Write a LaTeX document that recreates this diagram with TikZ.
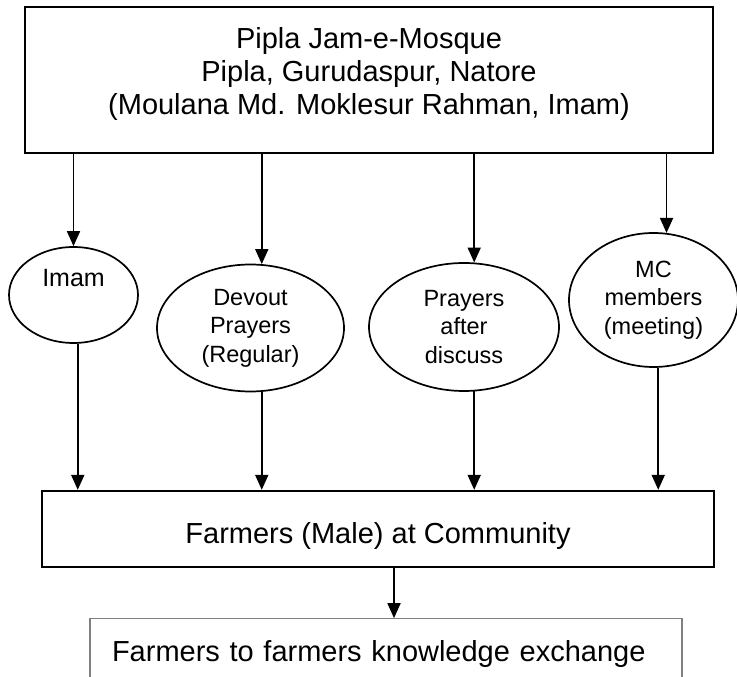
\documentclass[tikz,border=0pt]{standalone}
\usepackage{fontspec}
\setmainfont{Liberation Sans}
\usepackage{xcolor}
\usepackage{tikz}
\usetikzlibrary{shapes.geometric,arrows.meta,positioning}
\definecolor{mqink}{HTML}{000000}
\definecolor{mqgrey}{HTML}{808080}
\tikzset{
  plate/.style={rectangle,draw=mqink,line width=2.3pt,inner sep=0pt,align=center,
                font=\fontsize{29}{33}\selectfont,text=mqink},
  oval/.style={ellipse,draw=mqink,line width=1.7pt,inner sep=1pt,align=center,
               font=\fontsize{23.5}{28.5}\selectfont,text=mqink},
  flow/.style={-{Triangle[length=15pt,width=13pt]},line width=1.8pt,draw=mqink},
}

\begin{document}
\begin{tikzpicture}[x=1pt,y=1pt,
  note/.style={rectangle,draw=mqgrey,line width=1.1pt,inner xsep=22pt,inner ysep=0pt,
               text width=548pt,align=left,font=\fontsize{29}{33}\selectfont,text=mqink}]
  \useasboundingbox (0,0) rectangle (737,677);
  \clip (0,0) rectangle (737,677);
  \node[plate,minimum width=688pt,minimum height=146pt] (mosque) at (369,597) {};
  \node[align=center,inner sep=0pt,font=\fontsize{29}{33}\selectfont,text=mqink]
    (mosquetxt) at ([yshift=6pt]mosque.center)
    {Pipla Jam-e-Mosque\\Pipla, Gurudaspur, Natore\\(Moulana Md. Moklesur Rahman, Imam)};
  \node[oval,minimum width=129pt,minimum height=96pt,font=\fontsize{25}{29}\selectfont,
        text height=18pt,text depth=34pt] (imam) at (73.5,382) {Imam};
  \node[oval,minimum width=187pt,minimum height=127pt] (devout) at (250.5,349) {Devout\\Prayers\\(Regular)};
  \node[oval,minimum width=190pt,minimum height=128pt] (prayers) at (464,350) {Prayers\\after\\discuss};
  \node[oval,minimum width=169pt,minimum height=134pt] (mc) at (653.5,377) {MC\\members\\(meeting)};
  \node[plate,minimum width=672pt,minimum height=76pt,text height=36pt,text depth=6pt]
    (farmers) at (378,148) {Farmers (Male) at Community};
  \node[note,minimum width=592pt,minimum height=90pt,text height=21pt,text depth=25pt,
        below=50pt of farmers,xshift=8pt] (knowledge) {Farmers to farmers knowledge exchange};
  \draw[flow] (mosque.south -| imam.north) -- (imam.north);
  \draw[flow] (mosque.south -| devout.80) -- (devout.80);
  \draw[flow] (mosque.south -| prayers.81) -- (prayers.81);
  \draw[flow] (mosque.south -| mc.79) -- (mc.79);
  \draw[flow] (imam.-85) -- (imam.-85 |- farmers.north);
  \draw[flow] (devout.-80) -- (devout.-80 |- farmers.north);
  \draw[flow] (prayers.-81) -- (prayers.-81 |- farmers.north);
  \draw[flow] (mc.-86) -- (mc.-86 |- farmers.north);
  \draw[flow] ([xshift=16pt]farmers.south) -- ([xshift=16pt]farmers.south |- knowledge.north);
\end{tikzpicture}
\end{document}
